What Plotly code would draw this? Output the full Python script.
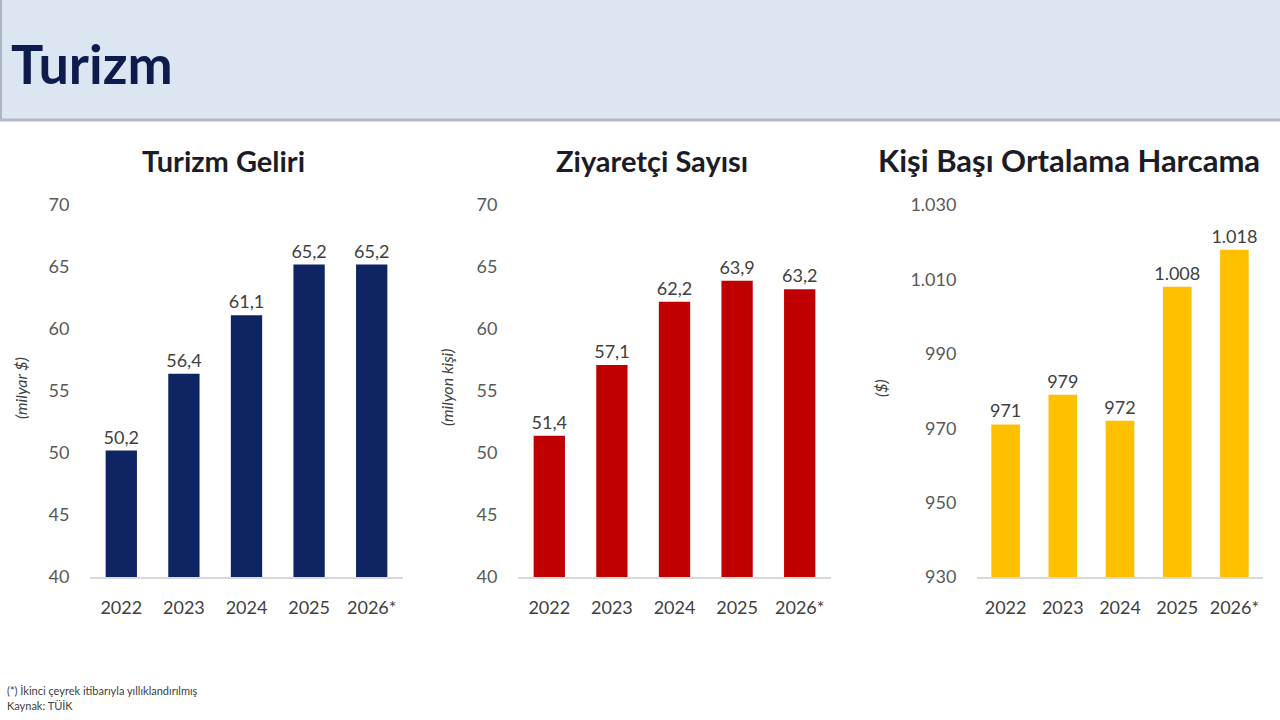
import plotly.graph_objects as go

# --- data ---
years = ["2022", "2023", "2024", "2025", "2026*"]
gelir = [50.2, 56.4, 61.1, 65.2, 65.2]          # milyar $
ziyaretci = [51.4, 57.1, 62.2, 63.9, 63.2]      # milyon kisi
harcama = [971, 979, 972, 1008, 1018]           # $

titles = ["Turizm Geliri", "Ziyaretçi Sayısı", "Kişi Başı Ortalama Harcama"]
units = ["(milyar $)", "(milyon kişi)", "($)"]
colors = ["#0f2463", "#c00000", "#ffc000"]

W, H = 1280, 720
FONT = "Lato"

def px_x(v):
    return v / W

def px_y(v):
    return 1 - v / H

# plot domains in pixels (left, right)
x_doms = [(90, 403), (518, 831), (977, 1263)]
y_dom = [px_y(577), px_y(205)]
title_cx = [223, 652, 1069]
title_sz = [29, 29, 31]

fig = go.Figure()

series = [gelir, ziyaretci, harcama]
for i, vals in enumerate(series):
    n = "" if i == 0 else str(i + 1)
    fmt = "%{y:,.0f}" if i == 2 else "%{y:.1f}"
    fig.add_trace(go.Bar(
        x=years, y=vals,
        marker=dict(color=colors[i], line=dict(width=0)),
        texttemplate=fmt, textposition="outside", constraintext="none",
        textfont=dict(family=FONT, size=18, color="#404040"),
        cliponaxis=False,
        xaxis="x" + n, yaxis="y" + n,
        showlegend=False,
    ))

    fig.layout["xaxis" + n] = dict(
        domain=[px_x(x_doms[i][0]), px_x(x_doms[i][1])],
        anchor="y" + n, automargin=False,
        showline=True, linecolor="#d9d9d9", linewidth=1.5,
        showgrid=False, zeroline=False,
        ticks="outside", ticklen=14, tickcolor="rgba(0,0,0,0)",
        tickfont=dict(family=FONT, size=18, color="#404040"),
    )
    if i == 2:
        yr = [930, 1030]
        dt = 20
    else:
        yr = [40, 70]
        dt = 5
    fig.layout["yaxis" + n] = dict(
        domain=y_dom, anchor="x" + n, automargin=False,
        range=yr, dtick=dt, tick0=yr[0],
        showgrid=False, zeroline=False, showline=False,
        separatethousands=True,
        ticks="outside", ticklen=16, tickcolor="rgba(0,0,0,0)",
        tickfont=dict(family=FONT, size=18, color="#595959"),
    )

    fig.add_annotation(
        x=px_x(title_cx[i]), y=px_y(160), xref="paper", yref="paper",
        text="<b>" + titles[i] + "</b>", showarrow=False,
        xanchor="center", yanchor="middle",
        font=dict(family=FONT, size=title_sz[i], color="#1c1c26"),
    )

unit_x = [20, 446, 880]
for i, u in enumerate(units):
    fig.add_annotation(
        x=px_x(unit_x[i]), y=px_y(388), xref="paper", yref="paper",
        text="<i>" + u + "</i>", showarrow=False, textangle=-90,
        xanchor="center", yanchor="middle",
        font=dict(family=FONT, size=16, color="#404040"),
    )

# header band
fig.add_shape(type="rect", xref="paper", yref="paper",
              x0=0, x1=1, y0=px_y(119), y1=1,
              fillcolor="#dce6f2", line=dict(width=0), layer="below")
fig.add_shape(type="line", xref="paper", yref="paper",
              x0=0, x1=1, y0=px_y(120), y1=px_y(120),
              line=dict(color="#b3bac6", width=3))
fig.add_shape(type="line", xref="paper", yref="paper",
              x0=px_x(1), x1=px_x(1), y0=px_y(119), y1=1,
              line=dict(color="#a9b4c4", width=2))

fig.add_annotation(
    x=px_x(9), y=px_y(63), xref="paper", yref="paper",
    text="<b>Turizm</b>", showarrow=False,
    xanchor="left", yanchor="middle",
    font=dict(family=FONT, size=54, color="#0e1b4d"),
)

fig.add_annotation(
    x=px_x(5), y=px_y(690), xref="paper", yref="paper",
    text="(*) İkinci çeyrek itibarıyla yıllıklandırılmış",
    showarrow=False, xanchor="left", yanchor="middle",
    font=dict(family=FONT, size=11, color="#404040"),
)
fig.add_annotation(
    x=px_x(5), y=px_y(705), xref="paper", yref="paper",
    text="Kaynak: TÜİK",
    showarrow=False, xanchor="left", yanchor="middle",
    font=dict(family=FONT, size=11, color="#404040"),
)

fig.update_layout(
    width=W, height=H,
    margin=dict(l=0, r=0, t=0, b=0, autoexpand=False),
    paper_bgcolor="white", plot_bgcolor="white",
    bargap=0.5,
    separators=",.",
    font=dict(family=FONT),
)

# pin the graph to the top-left corner of the window
pin = ("document.body.style.margin='0';"
       "document.body.style.overflow='hidden';"
       "var d=document.getElementById('{plot_id}');"
       "d.style.position='fixed';d.style.top='0';d.style.left='0';")

fig.write_html("out.html", config={"displayModeBar": False}, post_script=pin)
